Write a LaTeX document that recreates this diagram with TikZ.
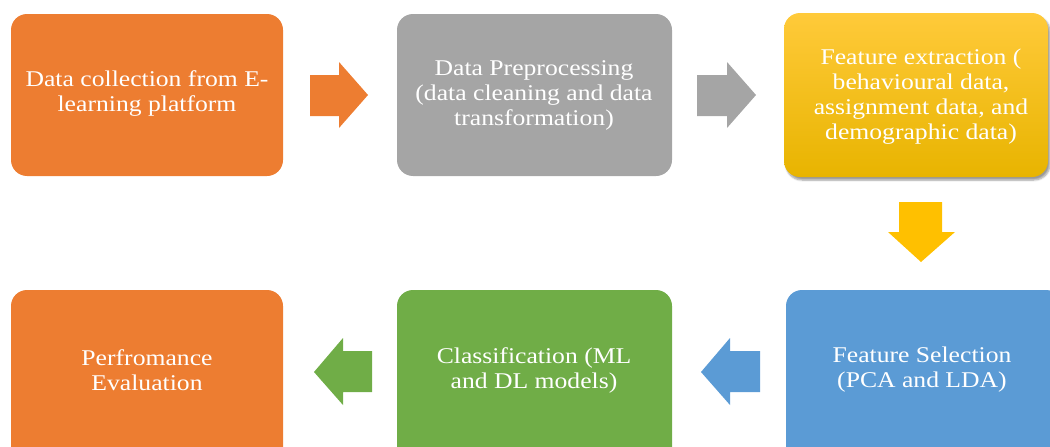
\documentclass[tikz,border=0pt]{standalone}
\usepackage{fontspec}
\setmainfont[FakeStretch=1.14]{Liberation Serif}
\usetikzlibrary{shadows.blur}
\definecolor{corange}{HTML}{ED7D31}
\definecolor{cgray}{HTML}{A5A5A5}
\definecolor{cgoldtop}{HTML}{FFCA3A}
\definecolor{cgoldbot}{HTML}{E8B400}
\definecolor{cgold}{HTML}{FFC000}
\definecolor{cblue}{HTML}{5B9BD5}
\definecolor{cgreen}{HTML}{70AD47}
\begin{document}
\begin{tikzpicture}[x=1pt,y=-1pt,
  stepbox/.style={rounded corners=16pt, draw=none},
  lbl/.style={text=white, align=center, font=\fontsize{22.5}{25}\selectfont},
  blockarrow/.style={draw=none}]
\useasboundingbox (0,0) rectangle (1050,447);
\clip (0,0) rectangle (1050,447);
% boxes
\fill[stepbox, corange] (11,14) rectangle (283,176);
\fill[stepbox, cgray] (397,14) rectangle (672,176);
\shade[stepbox, top color=cgoldtop, bottom color=cgoldbot, blur shadow={shadow xshift=2pt, shadow yshift=-3pt, shadow blur steps=6, shadow opacity=40}] (784,13) rectangle (1048,177);
\fill[stepbox, corange] (11,290) rectangle (283,470);
\fill[stepbox, cgreen] (397,290) rectangle (672,470);
\fill[stepbox, cblue] (786,290) rectangle (1062,470);
% labels
\node[lbl] (a) at (147,94) {Data collection from E-\\learning platform};
\node[lbl] (b) at (534,95) {Data Preprocessing\\(data cleaning and data\\transformation)};
\node[lbl] (c) at (921,97) {Feature extraction (\\behavioural data,\\assignment data, and\\demographic data)};
\node[lbl] (d) at (922,370) {Feature Selection\\(PCA and LDA)};
\node[lbl] (e) at (534,370) {Classification (ML\\and DL models)};
\node[lbl] (f) at (147,370) {Perfromance\\Evaluation};
% block arrows
\fill[blockarrow, corange] (310,75) -- (339,75) -- (339,62) -- (368,95) -- (339,128) -- (339,116) -- (310,116) -- cycle;
\fill[blockarrow, cgray] (697,75) -- (727,75) -- (727,62) -- (756,95) -- (727,128) -- (727,116) -- (697,116) -- cycle;
\fill[blockarrow, cgold] (899,202) -- (942,202) -- (942,232) -- (955,232) -- (921,262) -- (888,232) -- (899,232) -- cycle;
\fill[blockarrow, cblue] (760,351) -- (730,351) -- (730,338) -- (701,372) -- (730,405) -- (730,392) -- (760,392) -- cycle;
\fill[blockarrow, cgreen] (372,351) -- (343,351) -- (343,338) -- (314,372) -- (343,405) -- (343,392) -- (372,392) -- cycle;
\end{tikzpicture}
\end{document}
